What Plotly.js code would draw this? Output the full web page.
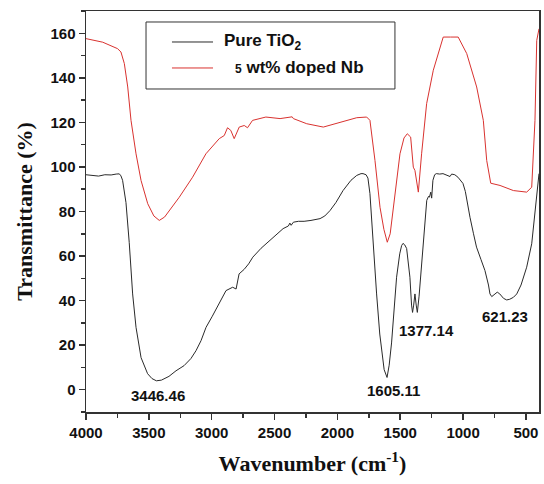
<!DOCTYPE html>
<html>
<head>
<meta charset="utf-8">
<script src="https://cdn.plot.ly/plotly-3.0.1.min.js"></script>
<style>html,body{margin:0;padding:0;background:#fff;}#chart{width:544px;height:484px;}</style>
</head>
<body>
<div id="chart"></div>
<script>
// Pure TiO2 spectrum
const pureWavenumber = [4000,3950,3900,3850,3800,3760,3735,3722,3709,3682,3656,3629,3602,3562,3510,3475,3440,3400,3340,3284,3220,3165,3125,3085,3045,2995,2941,2886,2833,2806,2782,2742,2706,2673,2607,2567,2507,2432,2390,2378,2368,2350,2310,2265,2210,2138,2100,2059,2012,1955,1892,1846,1812,1796,1772,1757,1741,1717,1688,1663,1648,1628,1605,1588,1569,1529,1504,1489,1478,1464,1449,1434,1423,1410,1402,1393,1383,1373,1364,1350,1329,1310,1289,1275,1268,1257,1250,1240,1226,1213,1186,1160,1131,1104,1091,1080,1066,1041,1017,1001,982,971,945,917,893,858,826,798,786,772,748,728,708,678,653,629,599,573,539,494,454,428,414,400,396];
const pureT = [96.5,96.2,95.9,96.5,96.4,96.8,96.9,96.0,94,84,66,43,28,14.4,7.2,5,4,4.3,6,8.5,10.8,14,17.5,22,28,33,38.6,44.5,46,45.2,52,54,56.5,59.5,63.5,65.6,68.7,72.3,73.5,74.8,73.8,75.2,75.6,75.6,76,76.8,78,80.4,84,89.4,94,96.2,97,97,96.5,95,88,65.6,43,25,19,9,5.5,11,21,50.5,61,64.7,65.7,65,63.4,57,50.5,38,34.7,38,43,38,34.7,42,58,72,85,86.8,86.4,88.7,86,94,96.5,97,96.8,97,96.5,95.7,96.8,96.6,96.5,95.4,94,92.6,89,85,77.4,70,64,58.5,53.5,47,43,41.8,43,43.8,43,41,40.3,40.6,41.5,43,47,55,65.5,80,89.4,95,97];

// 5 wt% Nb-doped spectrum
const dopedWavenumber = [4000,3867,3749,3722,3695,3668,3642,3602,3562,3509,3460,3417,3375,3337,3258,3152,3046,2940,2900,2874,2848,2821,2781,2741,2715,2675,2569,2456,2360,2350,2244,2112,1979,1846,1767,1741,1701,1661,1630,1603,1580,1555,1502,1470,1444,1417,1396,1383,1356,1330,1290,1237,1190,1158,1100,1039,971,892,839,812,780,706,600,494,454,428,414,396];
const dopedT = [157.6,156,153.1,151.6,146.4,135.9,120.9,105.9,93.9,83.5,78,76,77.5,80.4,86.4,95.4,105.9,112.7,114.1,117.6,116.4,112.7,117.9,118.6,117.6,120.9,122.4,121.7,122.5,121.7,119.4,117.9,120.1,122.1,122.4,120.9,102.9,81.9,72,66.2,70,81.9,105.9,113,114.9,113.4,99.9,98.4,88.7,105.9,128.4,143.4,153,158.3,158.3,158.3,150.9,135.9,120.9,102.9,92.7,91.7,89.4,88.7,90.9,120.9,156.8,162];

// Peak labels
const peakLabels = ["3446.46","1605.11","1377.14","621.23"];
const peakLabelX = [3427,1550,1295,667];
const peakLabelY = [-2.7,-0.5,26.5,32.8];

const seriesNames = ["Pure TiO<sub>2</sub>", "<span style='font-size:12px'>5</span> wt% doped Nb"];
const seriesColors = ['#2a2a2a', '#d9322f'];
const xTicks = [4000,3500,3000,2500,2000,1500,1000,500];
const yTicks = [0,20,40,60,80,100,120,140,160];

const traces = [
  {x: pureWavenumber, y: pureT, mode: 'lines', name: 'Pure TiO2', showlegend: false,
   line: {color: seriesColors[0], width: 1}},
  {x: dopedWavenumber, y: dopedT, mode: 'lines', name: '5 wt% doped Nb', showlegend: false,
   line: {color: seriesColors[1], width: 1}}
];

const labelFont = {family: 'Liberation Sans, Arial, sans-serif', size: 15, color: '#111', weight: 'bold'};
const annotations = peakLabels.map((t, i) => ({
  x: peakLabelX[i], y: peakLabelY[i], xref: 'x', yref: 'y', text: t, showarrow: false, font: labelFont
}));

// legend box drawn in paper space
const legendFont = {family: 'Liberation Sans, Arial, sans-serif', size: 17, color: '#111', weight: 'bold'};
const legendRows = [0.9227, 0.8579];
const legendTextX = [0.3002, 0.3245];
const shapes = [
  {type: 'rect', xref: 'paper', yref: 'paper', x0: 0.1325, x1: 0.682, y0: 0.8055, y1: 0.9726,
   line: {color: '#333', width: 1}, fillcolor: '#fff', layer: 'above'}
];
legendRows.forEach((yy, i) => {
  shapes.push({type: 'line', xref: 'paper', yref: 'paper', x0: 0.1898, x1: 0.2804, y0: yy, y1: yy,
               line: {color: seriesColors[i], width: 1}, layer: 'above'});
  annotations.push({xref: 'paper', yref: 'paper', x: legendTextX[i], y: yy, xanchor: 'left', yanchor: 'middle',
                    text: seriesNames[i], showarrow: false, font: legendFont});
});

const tickFont = {family: 'Liberation Sans, Arial, sans-serif', size: 15, color: '#111', weight: 'bold'};
const titleFont = {family: 'Liberation Serif, Times New Roman, serif', size: 22, color: '#111', weight: 'bold'};

const layout = {
  width: 544, height: 484,
  margin: {l: 86, r: 5, t: 11, b: 72},
  paper_bgcolor: '#fff', plot_bgcolor: '#fff',
  showlegend: false,
  xaxis: {
    range: [4000, 396], tickvals: xTicks, ticks: 'outside', ticklen: 6, tickwidth: 1.5, tickcolor: '#333',
    minor: {ticks: 'outside', ticklen: 4, tickwidth: 1.5, tickcolor: '#333', tickvals: [3750,3250,2750,2250,1750,1250,750]},
    showline: true, linecolor: '#333', linewidth: 1.5, mirror: true, showgrid: false, zeroline: false,
    tickfont: tickFont,
    title: {text: 'Wavenumber (cm<sup>-1</sup>)', font: titleFont, standoff: 16}
  },
  yaxis: {
    range: [-10, 170], tickvals: yTicks, ticks: 'outside', ticklen: 6, tickwidth: 1.5, tickcolor: '#333',
    minor: {ticks: 'outside', ticklen: 4, tickwidth: 1.5, tickcolor: '#333', tickvals: [-10,10,30,50,70,90,110,130,150,170]},
    showline: true, linecolor: '#333', linewidth: 1.5, mirror: true, showgrid: false, zeroline: false,
    tickfont: tickFont,
    title: {text: 'Transmittance (%)', font: titleFont, standoff: 12}
  },
  shapes: shapes,
  annotations: annotations
};

Plotly.newPlot('chart', traces, layout, {displayModeBar: false, staticPlot: true});
</script>
</body>
</html>
